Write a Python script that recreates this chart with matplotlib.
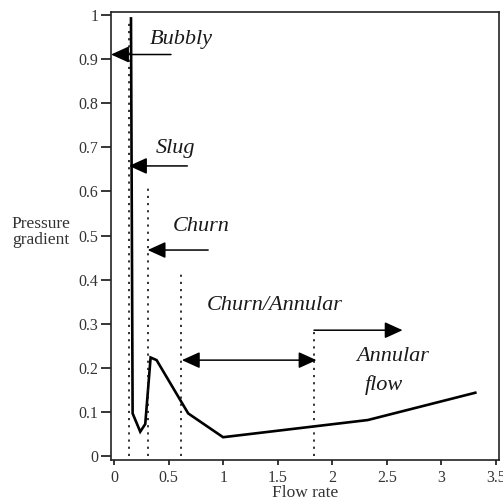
import matplotlib
matplotlib.use("Agg")
import matplotlib.pyplot as plt

# Data
flow_rate = [0.153, 0.168, 0.238, 0.284, 0.333, 0.388, 0.678, 0.998, 2.326, 3.312]
pressure = [0.993, 0.096, 0.0545, 0.072, 0.223, 0.217, 0.096, 0.042, 0.081, 0.143]

boundary_x = [0.132, 0.309, 0.611, 1.832]
boundary_top = [0.99, 0.618, 0.416, 0.287]

x_ticks = [0, 0.5, 1, 1.5, 2, 2.5, 3, 3.5]
x_tick_labels = ["0", "0.5", "1", "1.5", "2", "2.5", "3", "3.5"]
y_ticks = [0, 0.1, 0.2, 0.3, 0.4, 0.5, 0.6, 0.7, 0.8, 0.9, 1]
y_tick_labels = ["0", "0.1", "0.2", "0.3", "0.4", "0.5", "0.6", "0.7", "0.8", "0.9", "1"]

# Regime labels: (text, x, y)
regime_labels = [
    ("Bubbly", 0.618, 0.944),
    ("Slug", 0.56, 0.698),
    ("Churn", 0.796, 0.521),
    ("Churn/Annular", 1.475, 0.342),
    ("Annular", 2.553, 0.226),
    ("flow", 2.474, 0.160),
]
# Arrows: (x_start, y, x_tip, double)
arrows = [
    (0.52, 0.911, -0.03, False),
    (0.67, 0.658, 0.135, False),
    (0.861, 0.467, 0.306, False),
    (0.62, 0.217, 1.855, True),
    (1.832, 0.285, 2.645, False),
]

fig = plt.figure(figsize=(5.03, 5.01), dpi=100)
ax = fig.add_axes([0.2201, 0.0818, 0.7725, 0.8936])

serif = "Liberation Serif"

ax.plot(flow_rate, pressure, color="black", lw=1.9, solid_joinstyle="miter")

for bx, bt in zip(boundary_x, boundary_top):
    ax.plot([bx, bx], [0, bt], color="#111111", lw=1.2, linestyle=(0, (1.3, 3.0)))

for txt, tx, ty in regime_labels:
    ax.text(tx, ty, txt, ha="center", va="center", fontsize=16,
            family=serif, style="italic", color="#1a1a1a")

for xs, ay, xt, dbl in arrows:
    style = ("<|-|>" if dbl else "-|>") + ",head_length=1.1,head_width=0.5"
    ax.annotate("", xy=(xt, ay), xytext=(xs, ay),
                arrowprops=dict(arrowstyle=style, color="black", lw=1.1,
                                mutation_scale=10, shrinkA=0, shrinkB=0))

ax.set_xlim(-0.033, 3.532)
ax.set_ylim(-0.0098, 1.0068)

ax.set_xticks(x_ticks)
ax.set_xticklabels(x_tick_labels, family=serif, fontsize=11.5, color="#333333")
ax.set_yticks(y_ticks)
ax.set_yticklabels(y_tick_labels, family=serif, fontsize=11.5, color="#333333")

ax.tick_params(axis="y", direction="out", length=7.5, width=1.1, pad=1.5)
ax.tick_params(axis="x", direction="out", length=3.8, width=1.1, pad=3.5)

for s in ax.spines.values():
    s.set_linewidth(1.2)
    s.set_color("#222222")

ax.set_xlabel("Flow rate", family=serif, fontsize=12.5, color="#333333", labelpad=-1)
ax.set_ylabel("Pressure\ngradient", family=serif, fontsize=12.5, color="#333333",
              rotation=0, ha="center", va="center", linespacing=1.0)
ax.yaxis.set_label_coords(-0.18, 0.509)

fig.savefig("out.png", dpi=100)
